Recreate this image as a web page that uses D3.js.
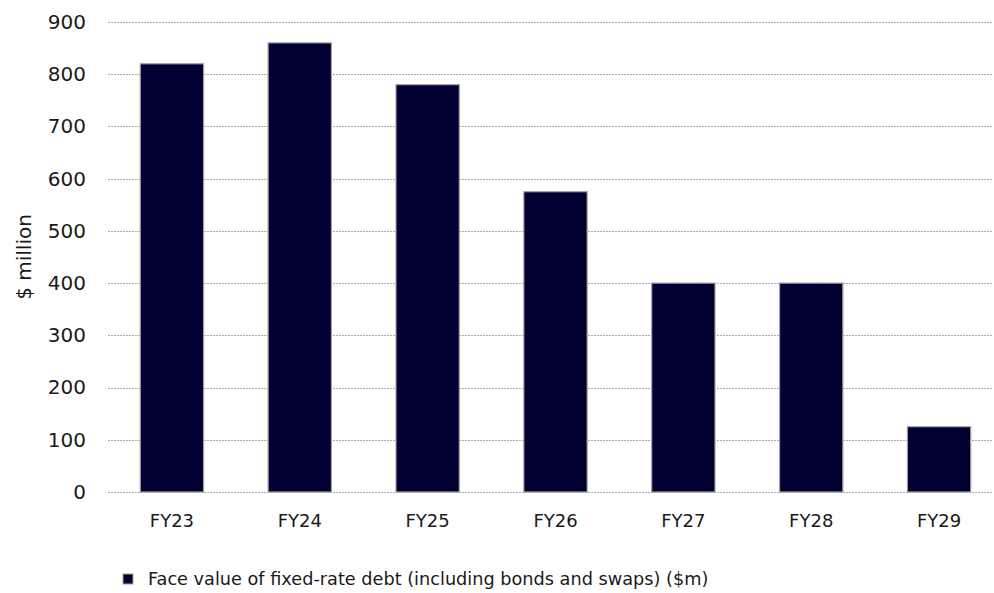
<!DOCTYPE html>
<html>
<head>
<meta charset="utf-8">
<script src="https://cdn.jsdelivr.net/npm/d3@7/dist/d3.min.js"></script>
<style>
  html, body { margin: 0; padding: 0; background: #fff; }
  svg text { font-family: "Century Gothic", "DejaVu Sans", sans-serif; fill: #1a1a1a; }
</style>
</head>
<body>
<svg id="chart" width="994" height="593"></svg>
<script>
// Fixed-rate debt profile by financial year
const categories = ["FY23", "FY24", "FY25", "FY26", "FY27", "FY28", "FY29"];
const fixedDebt = [820, 860, 780, 575, 400, 400, 125];
const yTicks = [0, 100, 200, 300, 400, 500, 600, 700, 800, 900];
const seriesName = "Face value of fixed-rate debt (including bonds and swaps) ($m)";
const yTitle = "$ million";

const svg = d3.select("#chart");
const barColor = "#000033";

const plotLeft = 108, plotRight = 993, plotTop = 22, plotBottom = 492;

const x = d3.scaleBand()
  .domain(categories)
  .range([plotLeft, 1003])
  .paddingInner(0.505)
  .paddingOuter(0.2525);

const y = d3.scaleLinear()
  .domain([0, 900])
  .range([plotBottom, plotTop]);

// dotted horizontal gridlines
svg.append("g")
  .selectAll("line")
  .data(yTicks)
  .join("line")
  .attr("x1", plotLeft)
  .attr("x2", plotRight)
  .attr("y1", d => Math.round(y(d)) + 0.5)
  .attr("y2", d => Math.round(y(d)) + 0.5)
  .attr("stroke", "#ababab")
  .attr("stroke-width", 1)
  .attr("stroke-dasharray", "2,1");

// y axis labels
const yAxis = svg.append("g")
  .attr("transform", `translate(${plotLeft - 22},0)`)
  .call(d3.axisLeft(y).tickValues(yTicks).tickSize(0).tickPadding(0));
yAxis.select(".domain").remove();
yAxis.selectAll("text")
  .style("font-size", "20px")
  .attr("fill", "#1a1a1a");

// bars
svg.append("g")
  .selectAll("rect")
  .data(categories.map((c, i) => ({ c, v: fixedDebt[i] })))
  .join("rect")
  .attr("x", d => x(d.c))
  .attr("y", d => y(d.v))
  .attr("width", x.bandwidth())
  .attr("height", d => y(0) - y(d.v))
  .attr("fill", barColor)
  .attr("stroke", "#a0a0a0")
  .attr("stroke-width", 1.2);

// x axis labels
const xAxis = svg.append("g")
  .attr("transform", `translate(0,${plotBottom + 22})`)
  .call(d3.axisBottom(x).tickSize(0).tickPadding(0));
xAxis.select(".domain").remove();
xAxis.selectAll("text")
  .style("font-size", "18px")
  .attr("dy", "0.71em")
  .attr("fill", "#1a1a1a");

// y axis title
svg.append("text")
  .attr("transform", `translate(31,${(plotTop + plotBottom) / 2}) rotate(-90)`)
  .attr("text-anchor", "middle")
  .style("font-size", "20px")
  .text(yTitle);

// legend
const legend = svg.append("g").attr("transform", "translate(123,574)");
legend.append("rect")
  .attr("width", 10).attr("height", 10)
  .attr("fill", barColor)
  .attr("stroke", "#a0a0a0");
legend.append("text")
  .attr("x", 25)
  .attr("y", 5)
  .attr("dy", "0.35em")
  .style("font-size", "17.7px")
  .text(seriesName);
</script>
</body>
</html>
